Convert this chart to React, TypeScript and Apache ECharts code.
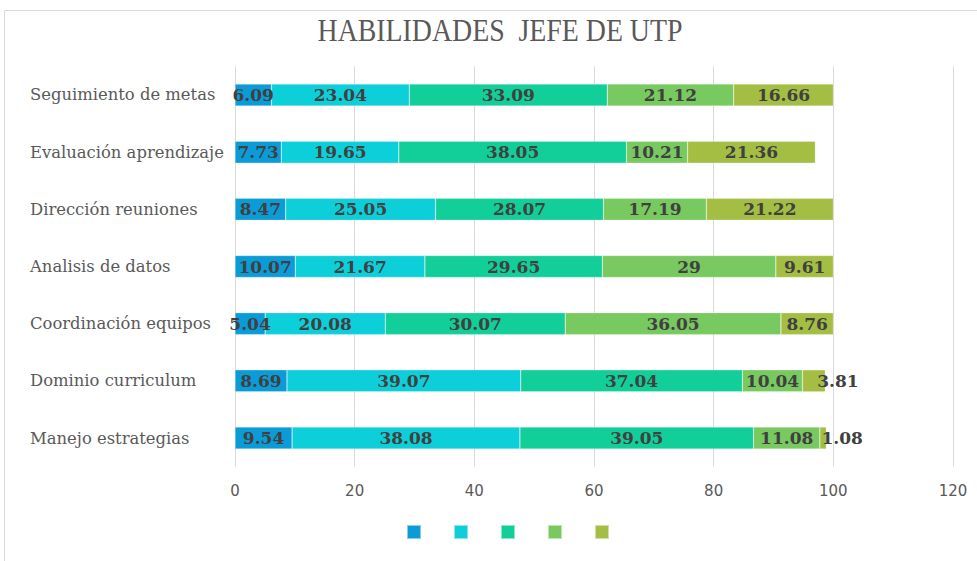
import React, { useEffect, useRef } from "react";
import * as echarts from "echarts";

const categories = [
  "Seguimiento de metas",
  "Evaluación aprendizaje",
  "Dirección reuniones",
  "Analisis de datos",
  "Coordinación equipos",
  "Dominio curriculum",
  "Manejo estrategias",
];
const seriesNames = ["1", "2", "3", "4", "5"];
const s1 = [6.09, 7.73, 8.47, 10.07, 5.04, 8.69, 9.54];
const s2 = [23.04, 19.65, 25.05, 21.67, 20.08, 39.07, 38.08];
const s3 = [33.09, 38.05, 28.07, 29.65, 30.07, 37.04, 39.05];
const s4 = [21.12, 10.21, 17.19, 29, 36.05, 10.04, 11.08];
const s5 = [16.66, 21.36, 21.22, 9.61, 8.76, 3.81, 1.08];
const xTicks = [0, 20, 40, 60, 80, 100, 120];
const titleText = "HABILIDADES  JEFE DE UTP";

const colors = ["#0B9CD8", "#0DCFDA", "#12CF9A", "#78C95F", "#A4BE44"];

export default function App() {
  const ref = useRef<HTMLDivElement>(null);
  useEffect(() => {
    if (!ref.current) return;
    const chart = echarts.init(ref.current, null, { renderer: "svg" });
    const all = [s1, s2, s3, s4, s5];
    const labelOffsets: Record<number, number> = { 5: 24, 6: 19 };
    const series = all.map((vals, si) => ({
      name: seriesNames[si],
      type: "bar",
      stack: "total",
      barWidth: 22,
      itemStyle: { color: colors[si], borderColor: "rgba(255,255,255,0.5)", borderWidth: 0.5 },
      label: {
        show: true,
        position: "inside",
        fontFamily: "DejaVu Serif",
        fontWeight: "bold",
        fontSize: 17,
        color: "#404040",
      },
      data: vals.map((v, i) =>
        si === 4 && labelOffsets[i] !== undefined
          ? { value: v, label: { offset: [labelOffsets[i], 0] } }
          : v
      ),
    }));
    chart.setOption({
      animation: false,
      color: colors,
      graphic: [
        {
          type: "rect",
          shape: { x: 4.5, y: 10.5, width: 1000, height: 600 },
          style: { fill: "none", stroke: "#d9d9d9", lineWidth: 1 },
          silent: true,
        },
        {
          type: "text",
          x: 500,
          y: 30,
          scaleX: 0.87,
          scaleY: 1,
          silent: true,
          style: {
            text: titleText,
            fontFamily: "Liberation Serif",
            fontSize: 32,
            fill: "#595959",
            textAlign: "center",
            textVerticalAlign: "middle",
          },
        },
      ],
      legend: {
        bottom: 16,
        left: 401,
        itemWidth: 14,
        itemHeight: 14,
        itemGap: 31,
        icon: "rect",
        formatter: () => "",
        data: seriesNames,
      },
      grid: { left: 235, right: 24, top: 66.4, bottom: 94.4, containLabel: false },
      xAxis: {
        type: "value",
        min: xTicks[0],
        max: xTicks[xTicks.length - 1],
        interval: 20,
        axisLine: { show: false },
        axisTick: { show: false },
        splitLine: { lineStyle: { color: "#d9d9d9", width: 1 } },
        axisLabel: {
          margin: 17,
          fontFamily: "DejaVu Sans",
          fontSize: 15,
          color: "#595959",
        },
      },
      yAxis: {
        type: "category",
        inverse: true,
        data: categories,
        axisLine: { show: false },
        axisTick: { show: false },
        axisLabel: {
          margin: 205,
          align: "left",
          padding: [4, 0, 0, 0],
          fontFamily: "DejaVu Serif",
          fontSize: 16.4,
          color: "#595959",
        },
      },
      series,
    });
    return () => chart.dispose();
  }, []);
  return (
    <div
      ref={ref}
      style={{ position: "absolute", left: 0, top: 0, width: 977, height: 561, background: "#fff" }}
    />
  );
}
